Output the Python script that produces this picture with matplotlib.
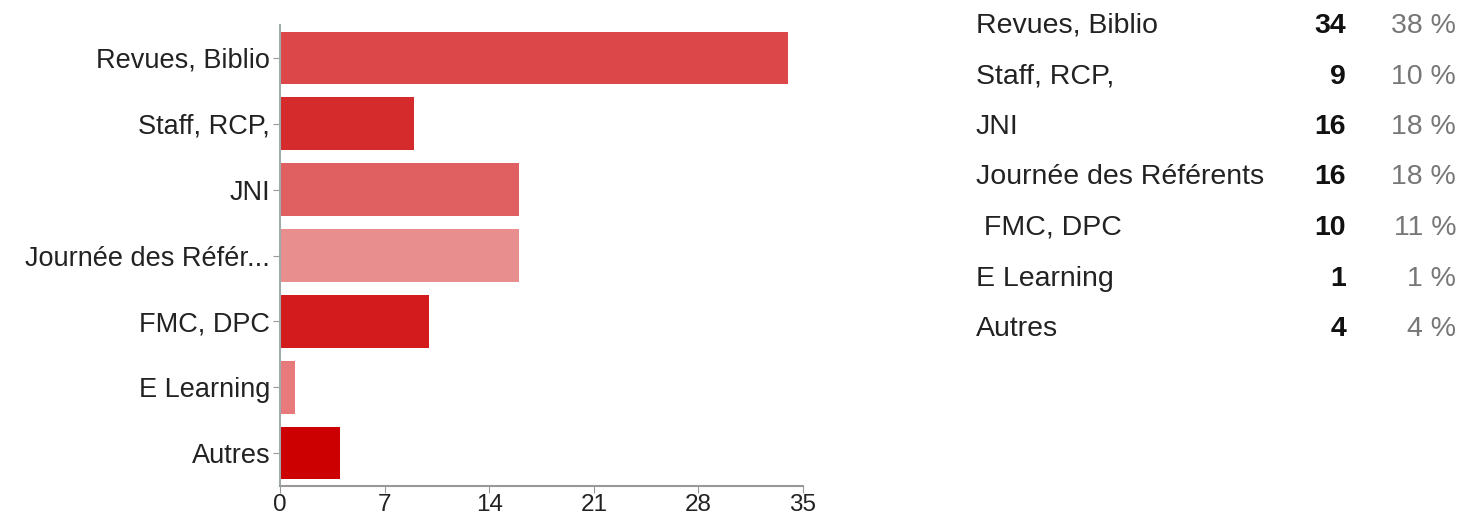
import matplotlib.pyplot as plt

plt.rcParams['font.family'] = ['Liberation Sans', 'DejaVu Sans']

# data
categories = ["Revues, Biblio", "Staff, RCP,", "JNI", "Journée des Référents",
              " FMC, DPC", "E Learning", "Autres"]
axis_labels = ["Revues, Biblio", "Staff, RCP,", "JNI", "Journée des Référ...",
               "FMC, DPC", "E Learning", "Autres"]
counts = [34, 9, 16, 16, 10, 1, 4]
percents = ["38 %", "10 %", "18 %", "18 %", "11 %", "1 %", "4 %"]
colors = ["#dc4849", "#d62b2d", "#e06062", "#e88e8e", "#d31a1c", "#e87a7c", "#cc0000"]
xticks = [0, 7, 14, 21, 28, 35]

W, H = 1461, 519
fig = plt.figure(figsize=(W / 100, H / 100), dpi=100)
ax = fig.add_axes([280 / W, 1 - 486 / H, 523 / W, 461 / H])

ypos = list(range(len(counts)))
ax.barh(ypos, counts, height=0.8, color=colors)
ax.set_ylim(len(counts) - 0.5, -0.5)
ax.set_xlim(0, 35)
ax.set_yticks(ypos)
ax.set_yticklabels(axis_labels, fontsize=19.5, color="#222222")
ax.set_xticks(xticks)
ax.set_xticklabels([str(t) for t in xticks], fontsize=17.5, color="#222222")
ax.tick_params(axis="y", length=5, color="#999999", pad=2)
ax.tick_params(axis="x", length=5, color="#999999", pad=1)
for s in ["top", "right"]:
    ax.spines[s].set_visible(False)
ax.spines["left"].set_color("#a0aaaa")
ax.spines["bottom"].set_color("#999999")
ax.spines["left"].set_linewidth(1.5)
ax.spines["bottom"].set_linewidth(1.5)

# table on the right
row0, step = 33, 50.5
for i, (c, n, p) in enumerate(zip(categories, counts, percents)):
    y = 1 - (row0 + i * step) / H
    fig.text(976 / W, y, c, fontsize=20.5, color="#222222", ha="left", va="baseline")
    fig.text(1346 / W, y, str(n), fontsize=20.5, color="#111111", fontweight="bold",
             ha="right", va="baseline")
    fig.text(1456 / W, y, p, fontsize=20.5, color="#777777", ha="right", va="baseline")

fig.savefig("out.png", dpi=100)
